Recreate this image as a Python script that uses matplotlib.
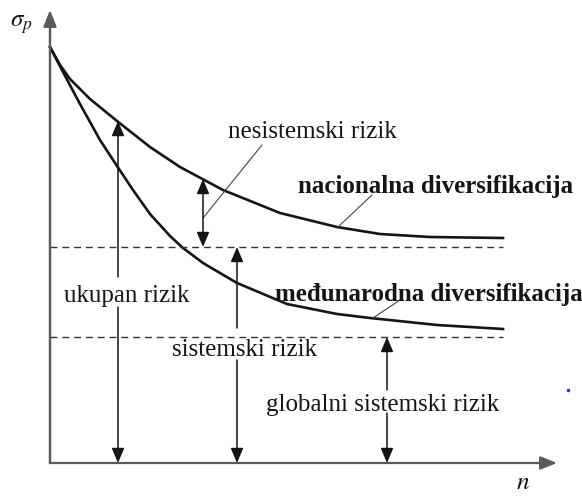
import matplotlib
matplotlib.use("Agg")
import matplotlib.pyplot as plt

# ---- data (diagram units: n along x, sigma_p along y) ----
n_nat = [0, 10, 20, 40, 67, 100, 130, 173, 230, 287, 330, 380, 453]
sig_nat = [416, 398, 384, 364, 342, 316, 296, 273, 250, 236, 229, 226, 225]

n_int = [0, 13, 30, 50, 67, 83, 100, 120, 133, 153, 187, 237, 287, 320, 387, 453]
sig_int = [416, 391, 359, 323, 297, 273, 249, 227, 215, 200, 180, 159, 149, 145, 138, 134]

sys_nat = 216      # national systematic risk level
sys_glob = 126     # global systematic risk level
n_end = 453

x_max = 507
y_max = 453

labels = {
    "nesist": "nesistemski rizik",
    "nac": "nacionalna diversifikacija",
    "med": "međunarodna diversifikacija",
    "uk": "ukupan rizik",
    "sis": "sistemski rizik",
    "glob": "globalni sistemski rizik",
}

plt.rcParams['font.family'] = ['Liberation Serif', 'DejaVu Serif']
plt.rcParams['mathtext.fontset'] = 'stix'

fig = plt.figure(figsize=(5.82, 4.96), dpi=100)
ax = fig.add_axes([0, 0, 1, 1])
ax.set_xlim(-50, 532)
ax.set_ylim(-33, 463)
ax.axis('off')

ink = '#151515'
axc = '#5a5a5a'

# axes with arrows
ax.annotate('', xy=(0, y_max), xytext=(0, 0),
            arrowprops=dict(arrowstyle='-|>,head_length=1.0,head_width=0.4',
                            color=axc, lw=1.6, shrinkA=0, shrinkB=0,
                            mutation_scale=10))
ax.annotate('', xy=(x_max, 0), xytext=(0, 0),
            arrowprops=dict(arrowstyle='-|>,head_length=1.0,head_width=0.4',
                            color=axc, lw=1.6, shrinkA=0, shrinkB=0,
                            mutation_scale=10))
ax.plot([0, 0], [0, y_max - 5], color=axc, lw=1.6)

# curves
ax.plot(n_nat, sig_nat, color=ink, lw=1.9, solid_joinstyle='round')
ax.plot(n_int, sig_int, color=ink, lw=1.9, solid_joinstyle='round')

# dashed levels
ax.plot([0, n_end], [sys_nat, sys_nat], color='#333333', lw=1.0, dashes=(5, 3.5))
ax.plot([0, n_end], [sys_glob, sys_glob], color='#333333', lw=1.0, dashes=(5, 3.5))

def arrow(x, y0, y1, style):
    ax.annotate('', xy=(x, y1), xytext=(x, y0),
                arrowprops=dict(arrowstyle=style + ',head_length=0.9,head_width=0.38',
                                color=ink, lw=1.1, shrinkA=0, shrinkB=0,
                                mutation_scale=10))

# ukupan rizik arrow (split by text)
x_uk = 68
arrow(x_uk, 186, 342, '-|>')
arrow(x_uk, 156, 0, '-|>')
# sistemski rizik arrow
x_sis = 187
arrow(x_sis, 135, sys_nat, '-|>')
arrow(x_sis, 103, 0, '-|>')
# globalni sistemski rizik arrow
x_gl = 337
arrow(x_gl, 73, sys_glob, '-|>')
arrow(x_gl, 50, 0, '-|>')
# nesistemski rizik arrow
x_ns = 153
arrow(x_ns, 250, 284, '-|>')
arrow(x_ns, 250, sys_nat, '-|>')

# leader lines
lc = '#444444'
ax.plot([153, 212], [245, 318], color=lc, lw=0.8)
ax.plot([288, 322], [236, 268], color=lc, lw=0.8)
ax.plot([323, 350], [145, 163], color=lc, lw=0.8)

fs = 18
ax.text(262, 331, labels["nesist"], fontsize=fs, color=ink, ha='center', va='center')
ax.text(248, 276, labels["nac"], fontsize=fs, color=ink, ha='left', va='center', fontweight='bold')
ax.text(225, 168, labels["med"], fontsize=fs, color=ink, ha='left', va='center', fontweight='bold')
ax.text(77, 167, labels["uk"], fontsize=fs, color=ink, ha='center', va='center')
ax.text(194, 113, labels["sis"], fontsize=fs, color=ink, ha='center', va='center')
ax.text(333, 58, labels["glob"], fontsize=fs, color=ink, ha='center', va='center')

ax.text(-29, 438, r'$\sigma_p$', fontsize=18, color=ink, ha='center', va='center')
ax.text(473, -20, r'$n$', fontsize=18, color=ink, ha='center', va='center')

ax.plot([518], [73], marker='o', markersize=1.5, color='#2233dd', linestyle='none')

fig.savefig('out.png', dpi=100)
